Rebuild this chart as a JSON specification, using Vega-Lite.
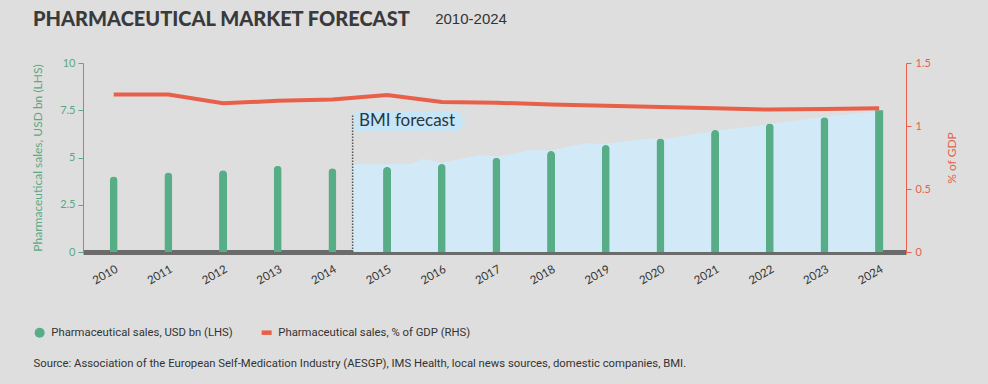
{
  "$schema": "https://vega.github.io/schema/vega-lite/v6.json",
  "width": 823,
  "height": 189,
  "autosize": {"type": "none"},
  "padding": {"left": 83, "top": 63, "right": 82, "bottom": 132},
  "background": "#dedede",
  "title": {"text": "PHARMACEUTICAL MARKET FORECAST", "anchor": "start", "frame": "group", "dx": -50, "offset": -34, "fontSize": 20, "font": "Lato", "fontWeight": 900, "color": "#3a3a3a", "baseline": "alphabetic"},
  "config": {"view": {"stroke": null}, "font": "Lato"},
  "datasets": {
    "sales": [
      {"year": 2010, "sales": 4.0}, {"year": 2011, "sales": 4.2}, {"year": 2012, "sales": 4.33},
      {"year": 2013, "sales": 4.57}, {"year": 2014, "sales": 4.43}, {"year": 2015, "sales": 4.5},
      {"year": 2016, "sales": 4.65}, {"year": 2017, "sales": 4.99}, {"year": 2018, "sales": 5.34},
      {"year": 2019, "sales": 5.66}, {"year": 2020, "sales": 6.0}, {"year": 2021, "sales": 6.45},
      {"year": 2022, "sales": 6.8}, {"year": 2023, "sales": 7.13}, {"year": 2024, "sales": 7.5}
    ],
    "gdp": [
      {"year": 2010, "gdp": 1.25}, {"year": 2011, "gdp": 1.25}, {"year": 2012, "gdp": 1.18},
      {"year": 2013, "gdp": 1.2}, {"year": 2014, "gdp": 1.21}, {"year": 2015, "gdp": 1.245},
      {"year": 2016, "gdp": 1.19}, {"year": 2017, "gdp": 1.185}, {"year": 2018, "gdp": 1.17},
      {"year": 2019, "gdp": 1.16}, {"year": 2020, "gdp": 1.15}, {"year": 2021, "gdp": 1.14},
      {"year": 2022, "gdp": 1.13}, {"year": 2023, "gdp": 1.135}, {"year": 2024, "gdp": 1.14}
    ],
    "forecast": [
      {"year": 2014.37, "value": 4.64}, {"year": 2015.0, "value": 4.64}, {"year": 2015.43, "value": 4.66},
      {"year": 2015.65, "value": 4.92}, {"year": 2016.0, "value": 4.72}, {"year": 2016.7, "value": 5.13},
      {"year": 2017.02, "value": 5.04}, {"year": 2017.65, "value": 5.4}, {"year": 2018.0, "value": 5.38},
      {"year": 2018.63, "value": 5.75}, {"year": 2018.97, "value": 5.72}, {"year": 2019.82, "value": 6.0},
      {"year": 2020.04, "value": 5.96}, {"year": 2021, "value": 6.4}, {"year": 2022, "value": 6.77},
      {"year": 2023, "value": 7.16}, {"year": 2024.07, "value": 7.46}
    ]
  },
  "layer": [
    {
      "layer": [
        {
          "data": {"name": "forecast"},
          "mark": {"type": "area", "color": "#d2eaf7", "opacity": 1},
          "encoding": {
            "x": {
              "field": "year", "type": "quantitative",
              "scale": {"domain": [2009.53, 2024.4], "nice": false, "zero": false},
              "axis": {
                "values": [2010, 2011, 2012, 2013, 2014, 2015, 2016, 2017, 2018, 2019, 2020, 2021, 2022, 2023, 2024],
                "format": "d", "labelAngle": -30, "tickSize": 0, "grid": false,
                "domainColor": "#6b6b6b", "domainWidth": 5,
                "labelColor": "#333333", "labelFontSize": 11.5, "labelPadding": 11,
                "title": "Source: Association of the European Self-Medication Industry (AESGP), IMS Health, local news sources, domestic companies, BMI.",
                "titleX": -50, "titleY": 114, "titleAnchor": "start", "titleAlign": "left", "titleBaseline": "alphabetic",
                "titleFont": "Roboto", "titleFontSize": 11.3, "titleFontWeight": "normal", "titleColor": "#333333", "titleLimit": 900
              }
            },
            "y": {
              "field": "value", "type": "quantitative",
              "scale": {"domain": [0, 10], "nice": false},
              "axis": {
                "values": [0, 2.5, 5, 7.5, 10], "labelExpr": "'' + datum.value",
                "title": "Pharmaceutical sales, USD bn (LHS)", "grid": false,
                "domainColor": "#5aa883", "tickColor": "#5aa883", "labelColor": "#5aa883", "titleColor": "#5aa883",
                "tickSize": 5, "labelFontSize": 11, "titleFontSize": 12, "titleFontWeight": "normal",
                "labelPadding": 3, "titlePadding": 15
              }
            }
          }
        },
        {
          "data": {"name": "sales"},
          "transform": [{"filter": "datum.year < 2024"}],
          "mark": {"type": "bar", "width": 8, "cornerRadiusTopLeft": 4, "cornerRadiusTopRight": 4},
          "encoding": {
            "x": {"field": "year", "type": "quantitative"},
            "y": {"field": "sales", "type": "quantitative"},
            "color": {
              "datum": "Pharmaceutical sales, USD bn (LHS)", "type": "nominal",
              "scale": {"domain": ["Pharmaceutical sales, USD bn (LHS)", "Pharmaceutical sales, % of GDP (RHS)"], "range": ["#57ad85", "#e8604a"]},
              "legend": {
                "orient": "none", "legendX": -49, "legendY": 264, "direction": "horizontal", "title": null,
                "padding": 0, "labelFont": "Roboto", "labelFontSize": 11.3, "labelColor": "#333333", "labelLimit": 400,
                "symbolSize": 100, "labelOffset": 6, "columnPadding": 28, "symbolType": "circle",
                "encode": {
                  "symbols": {
                    "update": {
                      "shape": {"signal": "datum.value == 'Pharmaceutical sales, USD bn (LHS)' ? 'circle' : 'M-1,-0.45H1V0.45H-1Z'"},
                      "fill": {"signal": "datum.value == 'Pharmaceutical sales, USD bn (LHS)' ? '#57ad85' : '#e8604a'"},
                      "stroke": {"value": null},
                      "strokeWidth": {"value": 0},
                      "opacity": {"value": 1},
                      "fillOpacity": {"value": 1}
                    }
                  }
                }
              }
            }
          }
        },
        {
          "data": {"name": "sales"},
          "transform": [{"filter": "datum.year == 2024"}],
          "mark": {"type": "bar", "width": 8},
          "encoding": {
            "x": {"field": "year", "type": "quantitative"},
            "y": {"field": "sales", "type": "quantitative"},
            "color": {"datum": "Pharmaceutical sales, USD bn (LHS)", "type": "nominal"}
          }
        },
        {
          "data": {"values": [{}]},
          "mark": {"type": "rule", "color": "#555555", "strokeWidth": 1.5, "strokeDash": [1.5, 1.5]},
          "encoding": {"x": {"datum": 2014.37}, "y": {"datum": 0}, "y2": {"datum": 7.25}}
        },
        {
          "data": {"values": [{}]},
          "mark": {"type": "rect", "color": "#c6e5f6"},
          "encoding": {"x": {"datum": 2014.4}, "x2": {"datum": 2016.32}, "y": {"datum": 6.4}, "y2": {"datum": 7.42}}
        },
        {
          "data": {"values": [{}]},
          "mark": {"type": "point", "shape": "M0,-1L0.84,0L0,1Z", "size": 361, "filled": true, "color": "#c6e5f6", "opacity": 1, "strokeWidth": 0},
          "encoding": {"x": {"datum": 2016.3}, "y": {"datum": 6.91}}
        },
        {
          "data": {"values": [{}]},
          "mark": {"type": "text", "text": "BMI forecast", "align": "left", "baseline": "middle", "fontSize": 17, "font": "Lato", "color": "#2b3642", "dx": 2},
          "encoding": {"x": {"datum": 2014.45}, "y": {"datum": 6.91}}
        },
        {
          "data": {"values": [{}]},
          "mark": {"type": "text", "text": "2010-2024", "align": "left", "baseline": "alphabetic", "fontSize": 15, "font": "Liberation Sans", "color": "#333333"},
          "encoding": {"x": {"datum": 2015.88}, "y": {"datum": 12.06}}
        }
      ]
    },
    {
      "data": {"name": "gdp"},
      "mark": {"type": "line", "strokeWidth": 4},
      "encoding": {
        "x": {"field": "year", "type": "quantitative"},
        "y": {
          "field": "gdp", "type": "quantitative",
          "scale": {"domain": [0, 1.5], "nice": false},
          "axis": {
            "orient": "right", "values": [0, 0.5, 1, 1.5], "labelExpr": "'' + datum.value",
            "title": "% of GDP", "titleAngle": 270, "grid": false,
            "domainColor": "#e8604a", "tickColor": "#e8604a", "labelColor": "#e8604a", "titleColor": "#e8604a",
            "tickSize": 5, "labelFontSize": 11, "titleFontSize": 12, "titleFontWeight": "normal",
            "labelPadding": 4, "titlePadding": 28
          }
        },
        "color": {"datum": "Pharmaceutical sales, % of GDP (RHS)", "type": "nominal"}
      }
    }
  ],
  "resolve": {"scale": {"y": "independent"}}
}
